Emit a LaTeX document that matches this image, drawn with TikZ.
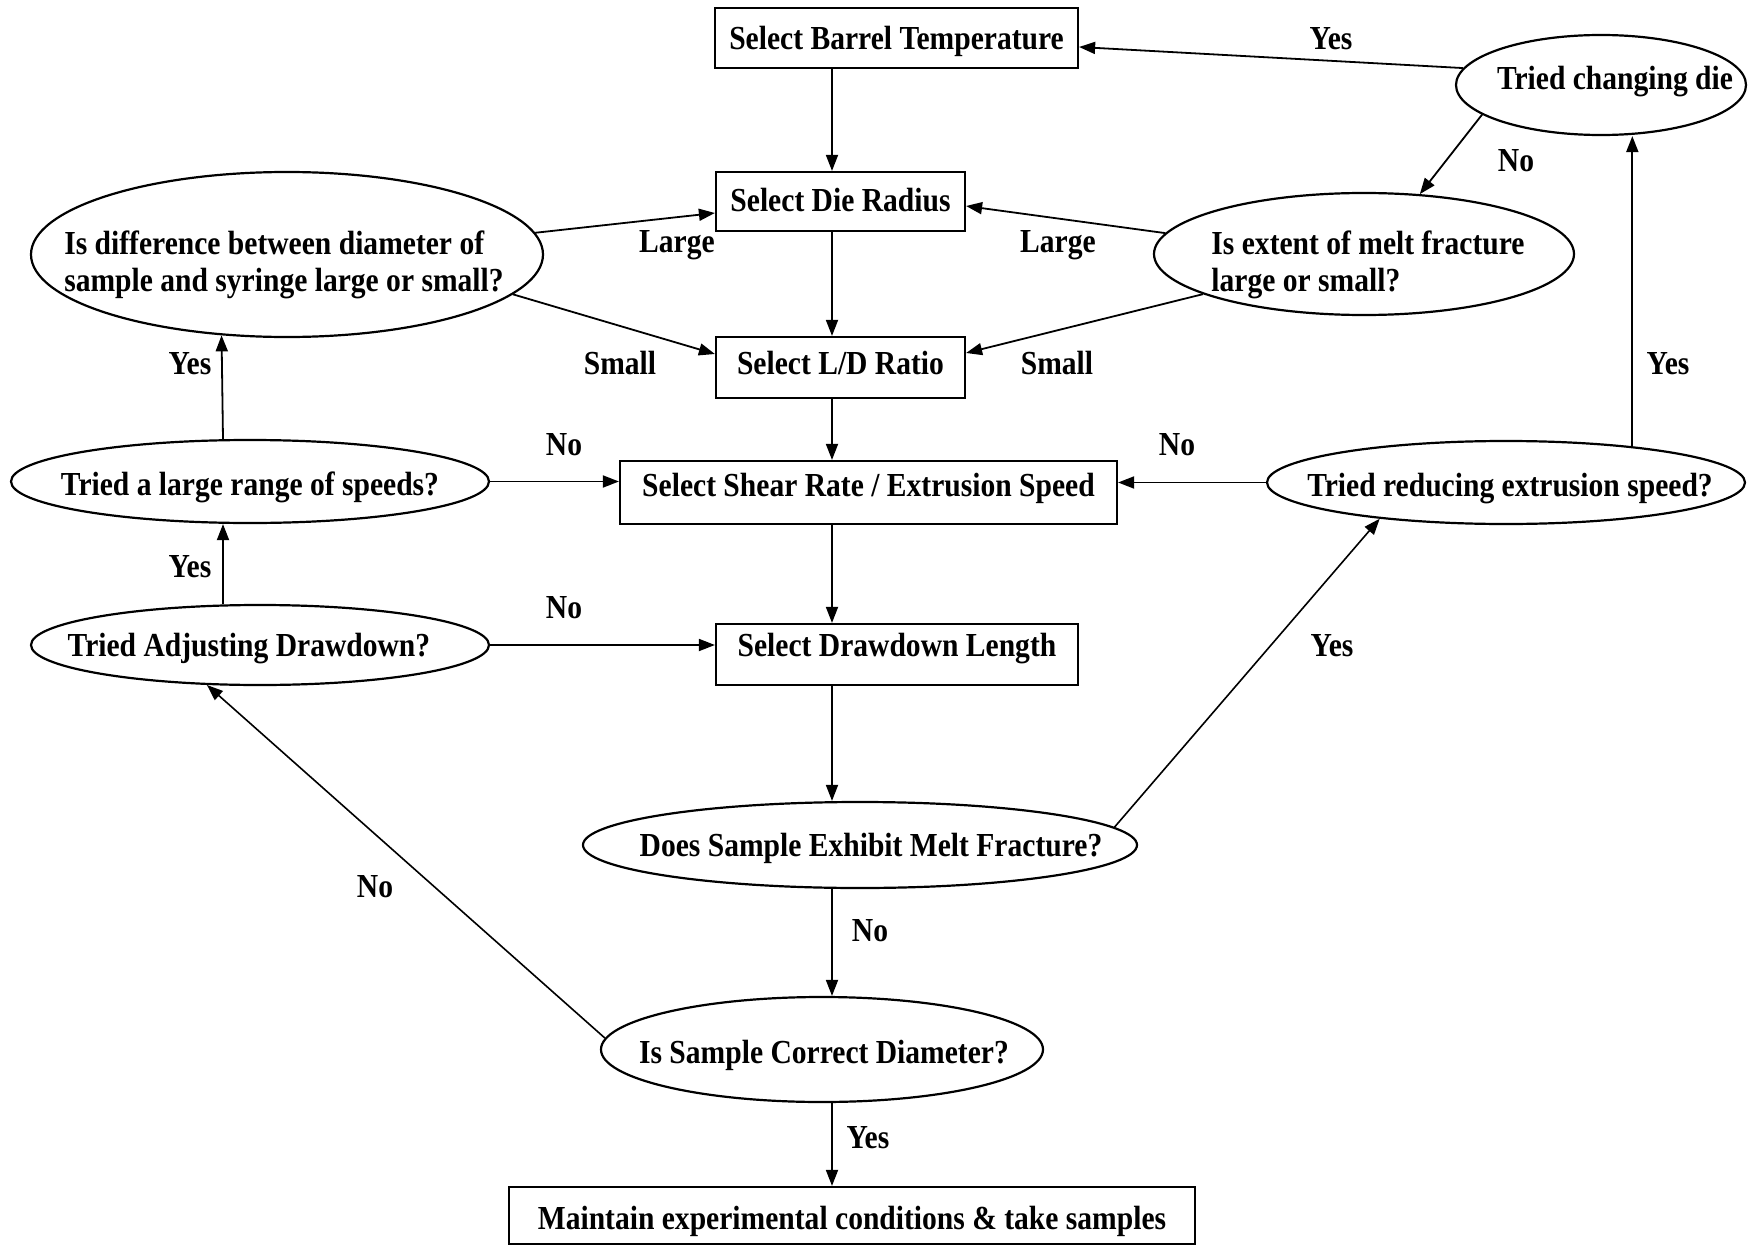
\documentclass[tikz,border=0pt]{standalone}
\usepackage{fontspec}
\setmainfont[FakeStretch=0.88]{Liberation Serif}
\usetikzlibrary{shapes.geometric,arrows.meta}
\begin{document}
\begin{tikzpicture}[x=0.5pt,y=-0.5pt,
  every node/.style={font=\fontsize{16.8}{18.5}\selectfont\bfseries},
  box/.style={draw,line width=1.1pt,rectangle,inner sep=0pt},
  oval/.style={draw,line width=1.1pt,ellipse,inner sep=0pt},
  txt/.style={inner sep=0pt,align=left},
  arr/.style={line width=0.9pt,-{Triangle[length=8pt,width=6pt]}},
  lbl/.style={inner sep=0pt}]
\useasboundingbox (0,0) rectangle (1752,1247);

% boxes
\node[box,minimum width=181.5pt,minimum height=30pt] (barrel) at (896.5,38) {};
\node[txt] (barrelt) at ([yshift=-1.7pt]barrel.center) {Select Barrel Temperature};
\node[box,minimum width=124.5pt,minimum height=29.5pt] (die) at (840.5,201.5) {};
\node[txt] (diet) at ([yshift=0.5pt]die.center) {Select Die Radius};
\node[box,minimum width=124.5pt,minimum height=30.5pt] (ld) at (840.5,367.5) {};
\node[txt] (ldt) at ([yshift=2.2pt]ld.center) {Select L/D Ratio};
\node[box,minimum width=248.5pt,minimum height=31.5pt] (shear) at (868.5,492.5) {};
\node[txt] (sheart) at ([yshift=2.2pt]shear.center) {Select Shear Rate / Extrusion Speed};
\node[box,minimum width=181pt,minimum height=30.5pt] (ddl) at (897,654.5) {};
\node[txt] (ddlt) at ([yshift=2.8pt]ddl.center) {Select Drawdown Length};
\node[box,minimum width=343pt,minimum height=28.5pt] (maint) at (852,1215.5) {};
\node[txt] (maintt) at ([yshift=-2.8pt]maint.center) {Maintain experimental conditions \& take samples};

% ellipses
\node[oval,minimum width=256pt,minimum height=82.5pt] (diff) at (287,254.5) {};
\node[txt] (difft) at (284,264.5) {Is difference between diameter of\\sample and syringe large or small?};
\node[oval,minimum width=239pt,minimum height=41.5pt] (range) at (250,481.5) {};
\node[txt] (ranget) at (250,487.5) {Tried a large range of speeds?};
\node[oval,minimum width=229pt,minimum height=40pt] (adjust) at (260,645) {};
\node[txt] (adjustt) at (249,648.2) {Tried Adjusting Drawdown?};
\node[oval,minimum width=145pt,minimum height=50pt] (change) at (1601,85) {};
\node[txt] (changet) at (1615,81.6) {Tried changing die};
\node[oval,minimum width=210pt,minimum height=61pt] (extent) at (1364,254) {};
\node[txt] (extentt) at (1368,264.5) {Is extent of melt fracture\\large or small?};
\node[oval,minimum width=239pt,minimum height=41.5pt] (reduce) at (1506,482.5) {};
\node[txt] (reducet) at (1510,488.4) {Tried reducing extrusion speed?};
\node[oval,minimum width=277pt,minimum height=43pt] (exhibit) at (860,845) {};
\node[txt] (exhibitt) at (871,848.4) {Does Sample Exhibit Melt Fracture?};
\node[oval,minimum width=221pt,minimum height=52.5pt] (correct) at (822,1049.5) {};
\node[txt] (correctt) at (824,1055.4) {Is Sample Correct Diameter?};

% guide coordinates
\coordinate (vx) at (832,0);
\coordinate (lx) at (223,0);

% main vertical chain
\draw[arr] (barrel.south -| vx) -- (die.north -| vx);
\draw[arr] (die.south -| vx) -- (ld.north -| vx);
\draw[arr] (ld.south -| vx) -- (shear.north -| vx);
\draw[arr] (shear.south -| vx) -- (ddl.north -| vx);
\draw[arr] (ddl.south -| vx) -- (exhibit.north -| vx);
\draw[arr] (exhibit.south -| vx) -- (correct.north -| vx);
\draw[arr] (correct.south -| vx) -- (maint.north -| vx);

% left side
\draw[arr] (diff.5) -- ([yshift=-5.75pt]die.west);
\draw[arr] (diff.-10) -- ([yshift=6.75pt]ld.west);
\draw[arr] (range.north -| lx) -- (diff.231.4);
\draw[arr] (range.east) -- (shear.west |- range.east);
\draw[arr] (adjust.north -| lx) -- (range.south -| lx);
\draw[arr] (adjust.east) -- (ddl.west |- adjust.east);
\draw[arr,line width=0.8pt] (correct.177) -- (adjust.217);

% right side
\draw[arr] (extent.174) -- ([yshift=-2.25pt]die.east);
\draw[arr] (extent.194) -- ([yshift=7.25pt]ld.east);
\draw[arr] (change.173) -- ([yshift=-4.5pt]barrel.east);
\draw[arr] (change.194) -- (extent.47);
\draw[arr] (reduce.16) -- (change.south -| reduce.16);
\draw[arr] (reduce.west) -- (shear.east |- reduce.west);
\draw[arr,line width=0.8pt] (exhibit.4.7) -- (reduce.196);

% labels
\node[lbl] (l1) at (1331,39) {Yes};
\node[lbl] (l2) at (1516,161) {No};
\node[lbl] (l3) at (677,245) {Large};
\node[lbl] (l4) at (620,363) {Small};
\node[lbl] (l5) at (1058,245) {Large};
\node[lbl] (l6) at (1057,363) {Small};
\node[lbl] (l7) at (1668,364) {Yes};
\node[lbl] (l8) at (190,364) {Yes};
\node[lbl] (l9) at (564,445) {No};
\node[lbl] (l10) at (190,567) {Yes};
\node[lbl] (l11) at (564,608) {No};
\node[lbl] (l12) at (1177,445) {No};
\node[lbl] (l13) at (1332,646) {Yes};
\node[lbl] (l14) at (375,887) {No};
\node[lbl] (l15) at (870,931) {No};
\node[lbl] (l16) at (868,1138) {Yes};
\end{tikzpicture}
\end{document}
